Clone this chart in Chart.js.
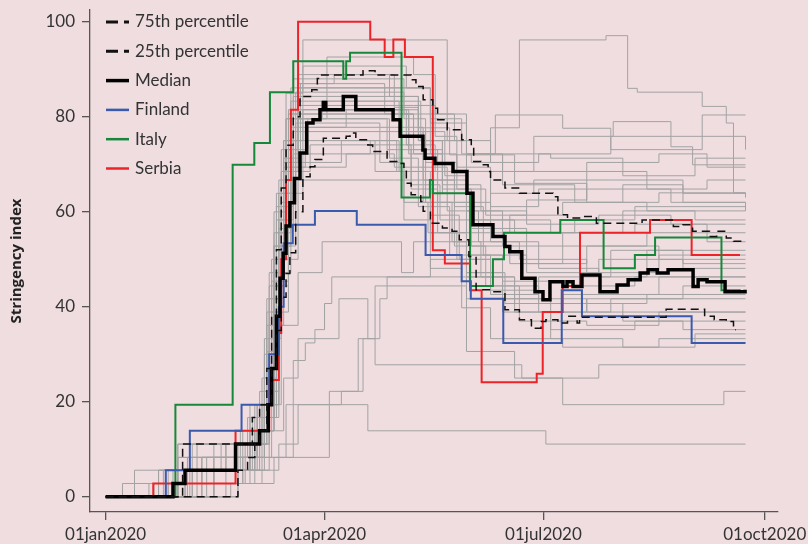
<!DOCTYPE html>
<html>
<head>
<meta charset="utf-8">
<script src="https://cdn.jsdelivr.net/npm/chart.js@4.4.1/dist/chart.umd.min.js"></script>
<style>
  html, body { margin: 0; padding: 0; background: #efdde0; }
  canvas { display: block; }
</style>
</head>
<body>
<canvas id="chart" width="808" height="544"></canvas>
<script>
// x = days since 01jan2020, y = stringency index; each point is where a step starts
const xTickDays = [0, 91, 182, 274]
const xTickLabels = ['01jan2020', '01apr2020', '01jul2020', '01oct2020']
const yTickValues = [0, 20, 40, 60, 80, 100]

const p75 = [[0,0],[32,11.1],[61,16.7],[64,19.4],[67,27],[69,38],[71,52],[73,65],[75,74],[78,80],[80.8,84.3],[85.7,85.7],[88,88.1],[89,88.8],[107,89.7],[112,88.8],[127,87.8],[129,86.4],[132,83.6],[136,81.8],[138,79.4],[142,77.3],[148,75.2],[152,73.7],[153,70.6],[156,69.9],[159,68.5],[160,66.7],[166,65],[172,63.9],[186,63.2],[188,59.4],[192,58.7],[197,59],[204,57.6],[223,58.3],[236,56.9],[240,57.3],[244,55.9],[251,54.8],[254,55.9],[258,54.5],[261,53.8],[265,53.4]]
const p25 = [[0,0],[55,5.6],[59,8.3],[62,11.1],[64,13.9],[67,19.4],[69,27],[71,35],[73,42],[75,47],[76.6,51.4],[79,60],[82,67.4],[85,69.5],[87,71],[90.5,75.5],[100,75.9],[101.6,76.6],[104,75.2],[109,74.1],[111,72.7],[117,70.6],[121,70.2],[124,69],[125,66],[127,63.6],[131,62.2],[132,60.1],[135,57.6],[140,56.6],[144,55.9],[147,54.1],[151,50.6],[154,43.6],[160,43.2],[166,39.4],[172,37.3],[177,35.5],[181,36.9],[183,37.3],[188,36.6],[192,38],[196,36.6],[197,37.8],[233,39.5],[249,38],[253,37.3],[258,36.9],[261,35.2],[262,35.2]]
const median = [[0,0],[28,2.8],[33,5.6],[54,11.1],[64,13.9],[67.6,19.4],[69,27],[71,38],[72.5,46],[73.8,51.3],[75,57],[76.6,61.9],[78.5,67],[80.8,72.4],[83.6,78.7],[86.2,79.4],[89.1,81.5],[90.5,83],[91.5,81.5],[98.8,84.3],[104,81.5],[119.5,79.4],[122.4,75.9],[131.9,73],[132.8,71.3],[136.9,70.2],[144.4,68.5],[150.2,63.9],[152.7,57.3],[161,54.8],[166,52.7],[168,51.6],[173,46],[178.5,43.2],[181.8,41.5],[184.7,45.3],[190.1,44.3],[191.8,45.3],[194.3,44.3],[198,46.7],[205.5,43.2],[212.6,44.6],[217.2,45.7],[222.2,47.1],[225.5,47.8],[229.3,47.1],[233.8,47.8],[244.2,44.3],[246.3,45.7],[250,45.3],[257.5,43.2],[265.8,43.6]]
const finland = [[0,0],[25,5.6],[35,13.9],[56.5,19.4],[68,30],[72,40],[74,53.4],[77.8,57.3],[87,60.2],[104.4,57.3],[133,50.9],[148,45.4],[151.8,41.7],[165.3,32.4],[189.6,43.5],[198,38],[243.6,32.4],[266,32.4]]
const italy = [[0,0],[29,19.4],[52.8,69.9],[61.8,74.5],[68.3,85.2],[78,91.7],[98.8,88],[100,91.7],[101.6,93.5],[123,63],[134.8,66.7],[136,63.9],[151.5,44.4],[161,50],[165.6,55.6],[189,58.3],[207,48.1],[220,50.9],[228.4,54.6],[256,43.5],[264,43.5]]
const serbia = [[0,0],[19.8,2.8],[54,13.9],[68,24.6],[72,34.5],[73,50],[75,66.7],[77,81.5],[80,100],[110,96.3],[116,92.6],[119.6,96.3],[124.4,92.6],[136,51.9],[141,49.1],[151.5,43.5],[156.3,24.1],[179.2,25.9],[181.7,38.9],[190,44.4],[197.2,55.6],[226.3,58.3],[243.6,50.9],[263.7,50.9]]

// other countries (grey)
const others = [
  [[0,0],[20,2.8],[50,11.1],[66,19.4],[72,50],[76,80.6],[120,80.6],[128,72.2],[136,66.7],[150,60.2],[165,58.3],[185,55.6],[215,60.2],[245,58.3],[266,58.3]],
  [[0,0],[28,5.6],[62,13.9],[70,41.7],[74,70.4],[80,88.9],[110,88.9],[118,84.3],[130,75],[140,63.9],[152,56.5],[175,49.1],[200,52.8],[230,50],[266,50]],
  [[0,0],[35,8.3],[64,16.7],[71,55.6],[77,77.8],[100,81.5],[125,74.1],[137,68.5],[150,62],[160,53.7],[180,48.1],[205,46.3],[225,51.9],[266,51.9]],
  [[0,0],[25,2.8],[58,11.1],[68,33.3],[73,62],[79,85.2],[115,85.2],[124,79.6],[133,70.4],[146,64.8],[158,59.3],[175,62.5],[200,64.8],[235,62],[266,60.2]],
  [[0,0],[40,8.3],[63,19.4],[69,45.4],[76,73.1],[84,79.6],[105,79.6],[118,71.3],[130,61.1],[143,50.9],[160,42.6],[180,38.9],[210,41.7],[240,44.4],[266,44.4]],
  [[0,0],[22,5.6],[60,13.9],[67,38.9],[72,66.7],[78,84.3],[120,84.3],[130,76.9],[141,67.6],[150,58.3],[165,52.8],[190,55.6],[220,57.4],[250,53.7],[266,53.7]],
  [[0,0],[30,11.1],[65,25],[70,52.8],[75,75],[82,90.7],[110,90.7],[125,86.1],[135,79.6],[148,72.2],[165,68.5],[200,70.4],[230,72.2],[250,69.4],[266,69.4]],
  [[0,0],[45,11.1],[66,22.2],[72,56.5],[78,76.9],[122,76.9],[132,66.7],[145,52.8],[158,44.4],[172,37],[200,36.1],[230,38.9],[266,38.9]],
  [[0,0],[33,5.6],[61,16.7],[68,44.4],[74,71.3],[81,87],[105,87],[116,80.6],[128,73.1],[140,64.8],[152,58.3],[170,55.6],[195,58.3],[220,61.1],[266,61.1]],
  [[0,0],[20,2.8],[57,8.3],[69,38.9],[76,68.5],[85,74.1],[118,74.1],[127,64.8],[138,55.6],[150,47.2],[166,40.7],[190,42.6],[230,46.3],[266,46.3]],
  [[0,0],[38,11.1],[64,19.4],[71,50],[75,79.6],[90,83.3],[112,83.3],[122,76.9],[133,68.5],[145,61.1],[157,50.9],[175,47.2],[205,50],[240,48.1],[266,48.1]],
  [[0,0],[25,5.6],[62,13.9],[70,47.2],[77,69.4],[100,72.2],[120,69.4],[132,62],[144,53.7],[156,46.3],[170,40.7],[195,40.7],[225,42.6],[266,42.6]],
  [[0,0],[30,8.3],[59,16.7],[67,41.7],[73,73.1],[80,82.4],[128,82.4],[137,75.9],[146,69.4],[160,63.9],[178,66.7],[210,66.7],[240,63.9],[266,63.9]],
  [[0,0],[42,8.3],[65,19.4],[72,52.8],[79,78.7],[108,78.7],[114,70.4],[124,62],[134,55.6],[146,50],[160,44.4],[180,40.7],[215,37],[240,35.2],[266,35.2]],
  [[0,0],[28,2.8],[60,11.1],[68,36.1],[74,63.9],[82,81.5],[115,81.5],[126,73.1],[138,62],[152,52.8],[168,49.1],[190,52.8],[225,55.6],[266,55.6]],
  [[0,0],[33,5.6],[63,13.9],[70,44.4],[76,70.4],[98,75],[112,68.5],[124,58.3],[135,48.1],[148,39.8],[160,33.3],[190,31.5],[230,33.3],[266,33.3]],
  [[0,0],[24,5.6],[56,13.9],[66,33.3],[71,63.9],[77,86.1],[125,86.1],[135,80.6],[145,75],[160,70.4],[180,72.2],[210,75.9],[235,75.9],[266,73.1]],
  [[0,0],[36,11.1],[62,19.4],[69,50],[75,79.6],[92,92.6],[118,92.6],[128,88.9],[137,80.6],[150,72.2],[165,65.7],[195,62],[225,60.2],[266,60.2]],
  [[0,0],[30,11.1],[64,19.4],[70,50],[74,75],[80,87],[95,88.9],[120,82],[130,77.7],[143,72],[152,70.4],[160,77.7],[172,96.2],[208,97.1],[217,86],[221,85.2],[248,82.2],[258,78.7],[261,64],[266,64]],
  [[0,0],[22,5.6],[50,11.1],[66,30],[70,60],[75,85],[82,96.2],[142,75],[150,72],[170,66],[200,62],[230,64],[266,63]],
  [[0,0],[26,5.6],[60,16.7],[68,47.2],[74,75],[80,86.1],[120,86.1],[135,78.7],[150,72.2],[162,80.4],[190,77.6],[210,73.1],[248,80.4],[266,80.4]],
  [[0,0],[30,8.3],[63,19.4],[70,55.6],[76,81.5],[118,81.5],[130,75],[150,68.5],[178,75.9],[211,79],[235,73.7],[244,69.9],[266,69.9]],
  [[0,0],[52,2.8],[70,8.3],[75,19.4],[109,13.9],[183,11.1],[266,11.1]],
  [[0,0],[55,5.6],[72,11.1],[80,19.4],[93,22.2],[105,33.3],[112,44.4],[130,44.4],[150,30.6],[170,25],[190,19.4],[257,22.2],[266,22.2]],
  [[0,0],[50,2.8],[65,8.3],[78,28.7],[83,32.4],[87,35.2],[91,40.7],[94,46.3],[150,46.3],[165,38.9],[185,35.2],[220,37],[266,37]],
  [[0,0],[55,2.8],[62,8.3],[93,19.4],[98,22.2],[107,33.3],[114,41.7],[117,46.3],[135,50],[150,41.7],[170,38.9],[200,41.7],[266,41.7]],
  [[0,0],[45,5.6],[68,13.9],[74,25],[80,33.3],[97,41.7],[109,33.3],[112,27.8],[173,25],[205,27.8],[266,27.8]],
  [[0,0],[40,5.6],[66,16.7],[72,36.1],[80,47.2],[90,53.7],[123,47.2],[128,53.7],[150,46.3],[170,41.7],[200,38.9],[266,38.9]],
  [[0,0],[7,2.8],[40,8.3],[66,25],[71,58.3],[77,80.6],[118,80.6],[126,72.2],[140,68.5],[160,61.1],[180,64.8],[200,68.5],[225,64.8],[250,66.7],[266,66.7]],
  [[0,0],[12,5.6],[48,11.1],[67,30.6],[72,63.9],[79,75],[113,75],[121,68.5],[133,62],[150,55.6],[168,59.3],[190,62],[215,65.7],[240,62],[266,62]],
  [[0,0],[30,5.6],[60,19.4],[69,47.2],[74,69.4],[83,77.8],[120,77.8],[132,69.4],[142,60.2],[155,53.7],[172,50],[200,47.2],[230,50.9],[266,50.9]],
  [[0,0],[34,8.3],[63,16.7],[70,52.8],[77,83.3],[123,83.3],[131,75],[140,65.7],[156,60.2],[175,57.4],[205,59.3],[235,57.4],[266,57.4]],
  [[0,0],[26,2.8],[57,13.9],[68,41.7],[73,68.5],[80,79.6],[108,79.6],[117,73.1],[127,65.7],[139,58.3],[150,50.9],[165,45.4],[190,44.4],[220,46.3],[266,46.3]],
  [[0,0],[36,5.6],[64,22.2],[71,61.1],[78,88],[115,88],[124,80.6],[135,72.2],[146,68.5],[165,72.2],[185,71.3],[215,67.6],[245,71.3],[266,71.3]],
  [[0,0],[45,8.3],[66,19.4],[73,50],[80,66.7],[120,66.7],[135,55.6],[150,47.2],[165,41.7],[185,33.3],[215,31.5],[245,34.3],[266,34.3]],
  [[0,0],[18,2.8],[55,11.1],[67,36.1],[72,58.3],[78,72.2],[110,75],[122,68.5],[135,59.3],[147,50],[160,43.5],[180,46.3],[210,51.9],[240,49.1],[266,49.1]]
]

const toXY = arr => arr.map(p => ({ x: p[0], y: p[1] }))

function line(label, data, color, width, dash) {
  return {
    label,
    data: toXY(data),
    borderColor: color,
    borderWidth: width,
    borderDash: dash || [],
    stepped: true,
    pointRadius: 0,
    fill: false,
  }
}

// first dataset is drawn on top, so the named series go first
const named = [
  line('75th percentile', p75, '#111111', 1.5, [8, 5]),
  line('25th percentile', p25, '#111111', 1.5, [8, 5]),
  line('Median', median, '#000000', 3.5),
  line('Finland', finland, '#3a5aad', 2),
  line('Italy', italy, '#16883a', 2),
  line('Serbia', serbia, '#ee2327', 2),
]
const greys = others.map((d, i) => line('other' + i, d, '#a3a3a3', 1))

const legendBox = {
  id: 'legendBox',
  afterDraw(chart) {
    const ctx = chart.ctx
    const left = chart.chartArea.left
    ctx.save()
    ctx.font = '17px Lato'
    ctx.fillStyle = '#333333'
    ctx.textBaseline = 'middle'
    named.forEach((ds, i) => {
      const y = 22 + i * 29.3
      ctx.beginPath()
      ctx.strokeStyle = ds.borderColor
      ctx.lineWidth = ds.label == 'Median' ? 3.5 : (ds.borderDash.length ? 3 : 2.5)
      ctx.setLineDash(ds.borderDash.length ? [12, 6] : [])
      ctx.moveTo(left + 16, y)
      ctx.lineTo(left + 39, y)
      ctx.stroke()
      ctx.fillText(ds.label, left + 45, y)
    })
    ctx.restore()
  }
}

new Chart(document.getElementById('chart'), {
  type: 'line',
  data: { datasets: named.concat(greys) },
  options: {
    responsive: false,
    animation: false,
    events: [],
    layout: { padding: { top: 10, right: 30, left: 0, bottom: 0 } },
    plugins: { legend: { display: false }, tooltip: { enabled: false } },
    scales: {
      x: {
        type: 'linear',
        min: -6.5,
        max: 279.5,
        afterBuildTicks: s => { s.ticks = xTickDays.map(v => ({ value: v })) },
        afterFit: s => { s.height = 32; s.paddingLeft = 0; s.paddingRight = 0 },
        ticks: {
          autoSkip: false,
          maxRotation: 0,
          padding: 4,
          color: '#333333',
          font: { family: 'Lato', size: 17 },
          callback: v => xTickLabels[xTickDays.indexOf(v)],
        },
        grid: { display: true, drawOnChartArea: false, drawTicks: true, tickLength: 8, color: '#555555', lineWidth: 1.3 },
        border: { display: true, color: '#555555', width: 1.3 },
      },
      y: {
        min: -3.2,
        max: 102.5,
        afterBuildTicks: s => { s.ticks = yTickValues.map(v => ({ value: v })) },
        afterFit: s => { s.width = 90; s.paddingTop = 0; s.paddingBottom = 0 },
        ticks: {
          padding: 7,
          color: '#333333',
          font: { family: 'Lato', size: 17 },
        },
        grid: { display: true, drawOnChartArea: false, drawTicks: true, tickLength: 8, color: '#555555', lineWidth: 1.3 },
        border: { display: true, color: '#555555', width: 1.3 },
        title: {
          display: true,
          text: 'Stringency index',
          color: '#222222',
          font: { family: 'Open Sans', size: 15, weight: 'bold' },
          padding: { top: 8, bottom: 0 },
        },
      },
    },
  },
  plugins: [legendBox],
})
</script>
</body>
</html>
